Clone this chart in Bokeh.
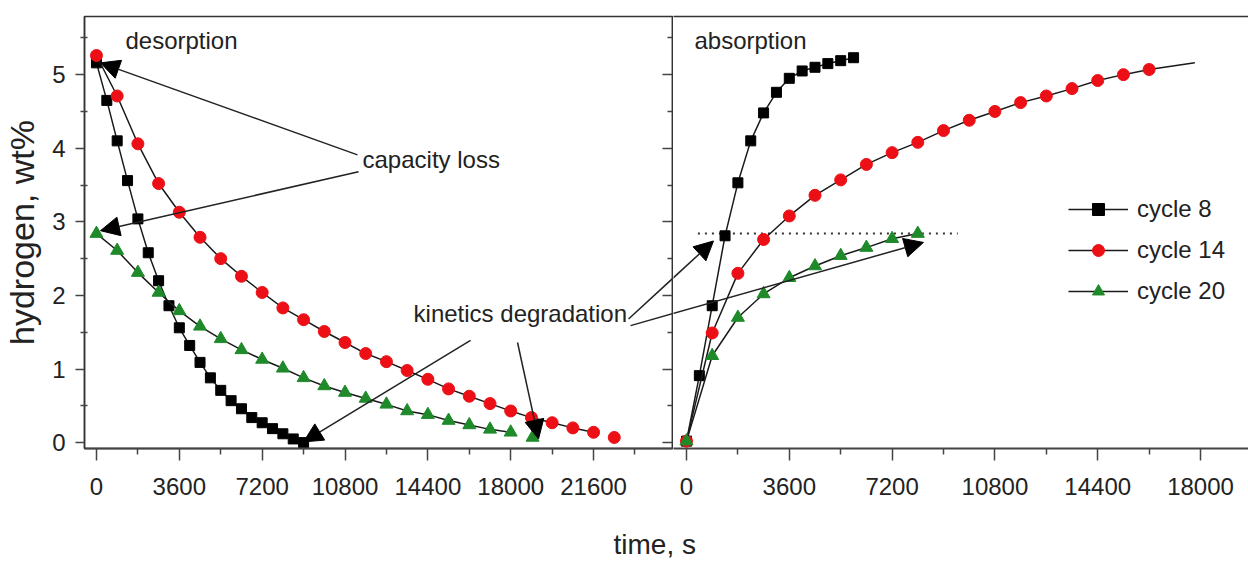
from bokeh.plotting import figure
from bokeh.layouts import row, column
from bokeh.models import (Range1d, LinearAxis, FixedTicker, Legend, LegendItem,
                          Arrow, NormalHead, Label)
from bokeh.embed import file_html
from bokeh.resources import INLINE

FONT = "Liberation Sans"
INK = "#1a1a1a"
TXT = "#222222"
RED = "#ec1016"
GREEN = "#1f8a2a"

# ---------------- data (time in s, hydrogen in wt%) ----------------
# desorption
des8_t = [0, 450, 900, 1350, 1800, 2250, 2700, 3150, 3600, 4050, 4500, 4950,
          5400, 5850, 6300, 6750, 7200, 7650, 8100, 8550, 9000]
des8_h = [5.16, 4.65, 4.10, 3.56, 3.04, 2.58, 2.20, 1.86, 1.56, 1.32, 1.09, 0.88,
          0.71, 0.57, 0.46, 0.34, 0.27, 0.19, 0.12, 0.05, 0.00]
des14_t = [0, 900, 1800, 2700, 3600, 4500, 5400, 6300, 7200, 8100, 9000, 9900,
           10800, 11700, 12600, 13500, 14400, 15300, 16200, 17100, 18000, 18900,
           19800, 20700, 21600, 22500]
des14_h = [5.26, 4.71, 4.06, 3.52, 3.13, 2.79, 2.50, 2.26, 2.04, 1.83, 1.67, 1.51,
           1.36, 1.21, 1.10, 0.98, 0.86, 0.73, 0.63, 0.53, 0.43, 0.34,
           0.27, 0.20, 0.14, 0.07]
des20_t = [0, 900, 1800, 2700, 3600, 4500, 5400, 6300, 7200, 8100, 9000, 9900,
           10800, 11700, 12600, 13500, 14400, 15300, 16200, 17100, 18000, 18950]
des20_h = [2.84, 2.61, 2.31, 2.04, 1.79, 1.58, 1.41, 1.26, 1.13, 1.01, 0.88, 0.77,
           0.68, 0.60, 0.52, 0.43, 0.38, 0.30, 0.24, 0.18, 0.14, 0.07]
# absorption
abs8_t = [0, 450, 900, 1350, 1800, 2250, 2700, 3150, 3600, 4050, 4500, 4950, 5400, 5850]
abs8_h = [0.02, 0.91, 1.86, 2.81, 3.53, 4.10, 4.48, 4.76, 4.95, 5.05, 5.10, 5.15, 5.19, 5.23]
abs14_t = [0, 900, 1800, 2700, 3600, 4500, 5400, 6300, 7200, 8100, 9000, 9900,
           10800, 11700, 12600, 13500, 14400, 15300, 16200, 17800]
abs14_h = [0.02, 1.49, 2.30, 2.76, 3.08, 3.36, 3.57, 3.78, 3.94, 4.08, 4.24, 4.38,
           4.50, 4.62, 4.71, 4.81, 4.92, 5.00, 5.07, 5.16]
abs20_t = [0, 900, 1800, 2700, 3600, 4500, 5400, 6300, 7200, 8100]
abs20_h = [0.02, 1.18, 1.70, 2.02, 2.24, 2.40, 2.54, 2.65, 2.77, 2.84]
# cycle-20 capacity reference level (dotted)
ref_t = [400, 9500]
ref_h = [2.84, 2.84]

labels = ["cycle 8", "cycle 14", "cycle 20"]

# ticks
des_ticks = [0, 3600, 7200, 10800, 14400, 18000, 21600]
des_minor = [1800, 5400, 9000, 12600, 16200, 19800, 23400]
abs_ticks = [0, 3600, 7200, 10800, 14400, 18000]
abs_minor = [1800, 5400, 9000, 12600, 16200]
y_ticks = [0, 1, 2, 3, 4, 5]
y_minor = [0.5, 1.5, 2.5, 3.5, 4.5, 5.5]

# ---------------- geometry ----------------
L_W, R_W, H, B_H = 673, 575, 520, 43
L_LEFT, TOP, BOTTOM = 84, 16, 72
L_X = (-520, 25030)
R_X = (-455, 19680)
Y = (-0.08, 5.79)
L_FRAME = (L_LEFT, L_W - 1)
R_FRAME = (L_W, L_W + R_W)


def r2l(t):
    px = R_FRAME[0] + (t - R_X[0]) / (R_X[1] - R_X[0]) * (R_FRAME[1] - R_FRAME[0])
    return L_X[0] + (px - L_FRAME[0]) / (L_FRAME[1] - L_FRAME[0]) * (L_X[1] - L_X[0])


def l2r(t):
    px = L_FRAME[0] + (t - L_X[0]) / (L_X[1] - L_X[0]) * (L_FRAME[1] - L_FRAME[0])
    return R_X[0] + (px - R_FRAME[0]) / (R_FRAME[1] - R_FRAME[0]) * (R_X[1] - R_X[0])


yr = Range1d(*Y)

L = figure(width=L_W, height=H, x_range=Range1d(*L_X), y_range=yr, title=None,
           toolbar_location=None, output_backend="svg",
           min_border_left=L_LEFT, min_border_right=1, min_border_top=TOP,
           min_border_bottom=BOTTOM)
R = figure(width=R_W, height=H, x_range=Range1d(*R_X), y_range=yr, title=None,
           toolbar_location=None, output_backend="svg", y_axis_location=None,
           min_border_left=0, min_border_right=0, min_border_top=TOP,
           min_border_bottom=BOTTOM)

for p in (L, R):
    p.xgrid.visible = False
    p.ygrid.visible = False
    p.background_fill_color = "white"
    p.border_fill_color = "white"

L.outline_line_color = "#333333"
L.outline_line_width = 1.5
R.outline_line_color = None


def style_x(ax, ticks, minor):
    ax.ticker = FixedTicker(ticks=ticks, minor_ticks=minor)
    ax.major_tick_out = 12
    ax.major_tick_in = 0
    ax.minor_tick_out = 6
    ax.minor_tick_in = 0
    ax.axis_line_width = 2
    ax.axis_line_color = "#444444"
    ax.major_tick_line_color = "#444444"
    ax.minor_tick_line_color = "#444444"
    ax.major_tick_line_width = 1.5
    ax.minor_tick_line_width = 1.5
    ax.major_label_text_font = FONT
    ax.major_label_text_font_size = "24px"
    ax.major_label_text_color = TXT
    ax.major_label_standoff = 17


style_x(L.xaxis[0], des_ticks, des_minor)
style_x(R.xaxis[0], abs_ticks, abs_minor)

ya = L.yaxis[0]
ya.ticker = FixedTicker(ticks=y_ticks, minor_ticks=y_minor)
ya.major_tick_out = 9
ya.major_tick_in = 0
ya.minor_tick_out = 4
ya.minor_tick_in = 3
ya.axis_line_color = "#333333"
ya.axis_line_width = 1.5
ya.major_tick_line_color = "#444444"
ya.minor_tick_line_color = "#444444"
ya.major_tick_line_width = 1.5
ya.minor_tick_line_width = 1.5
ya.major_label_text_font = FONT
ya.major_label_text_font_size = "24px"
ya.major_label_text_color = TXT
ya.major_label_standoff = 10
ya.axis_label = "hydrogen, wt%"
ya.axis_label_text_font = FONT
ya.axis_label_text_font_size = "34px"
ya.axis_label_text_font_style = "normal"
ya.axis_label_text_color = TXT
ya.axis_label_standoff = 8

# ticks on the divider, pointing into the desorption panel (tick marks only, no labels)
div_major = LinearAxis(ticker=FixedTicker(ticks=[], minor_ticks=y_ticks),
                       major_tick_in=0, major_tick_out=0, minor_tick_in=10, minor_tick_out=0,
                       axis_line_color="#333333", axis_line_width=1.5,
                       minor_tick_line_width=1.5, minor_tick_line_color="#444444")
div_minor = LinearAxis(ticker=FixedTicker(ticks=[], minor_ticks=y_minor),
                       major_tick_in=0, major_tick_out=0, minor_tick_in=5, minor_tick_out=0,
                       axis_line_color=None,
                       minor_tick_line_width=1.5, minor_tick_line_color="#444444")
L.add_layout(div_major, "right")
L.add_layout(div_minor, "right")

top_ax = LinearAxis(ticker=FixedTicker(ticks=[]), major_tick_in=0, major_tick_out=0,
                    minor_tick_in=0, minor_tick_out=0,
                    axis_line_color="#333333", axis_line_width=1.5)
R.add_layout(top_ax, "above")


def series(p, t, h, marker, color, size, line_n=None, mark_n=None):
    lr = p.line(t[:line_n], h[:line_n], line_color=INK, line_width=1.5)
    sr = p.scatter(t[:mark_n], h[:mark_n], marker=marker, size=size,
                   fill_color=color, line_color=color)
    return lr, sr


series(L, des8_t, des8_h, "square", "black", 10)
series(L, des14_t, des14_h, "circle", RED, 12, line_n=-1)
series(L, des20_t, des20_h, "triangle", GREEN, 13, line_n=-1)

R.line(ref_t, ref_h, line_color="#333333", line_width=2, line_dash="2 5")
a8 = series(R, abs8_t, abs8_h, "square", "black", 10)
a14 = series(R, abs14_t, abs14_h, "circle", RED, 12, mark_n=-1)
a20 = series(R, abs20_t, abs20_h, "triangle", GREEN, 13)

legend = Legend(items=[LegendItem(label=labels[0], renderers=list(a8)),
                       LegendItem(label=labels[1], renderers=list(a14)),
                       LegendItem(label=labels[2], renderers=list(a20))],
                location=(395, 142), border_line_color=None, background_fill_alpha=0,
                label_text_font=FONT, label_text_font_size="24px", label_text_color=TXT,
                glyph_width=60, glyph_height=30, label_height=30, spacing=11,
                padding=0, margin=0, label_standoff=9)
R.add_layout(legend)

# ---------------- annotations ----------------
def txt(p, x, y, s):
    p.add_layout(Label(x=x, y=y, text=s, text_font=FONT, text_font_size="24px",
                       text_color=TXT, text_align="left", text_baseline="middle"))


txt(L, 1260, 5.47, "desorption")
txt(R, 280, 5.47, "absorption")
txt(L, 11560, 3.85, "capacity loss")
txt(L, 13780, 1.75, "kinetics degradation")


def arrow(p, x0, y0, x1, y1):
    p.add_layout(Arrow(end=NormalHead(size=19, fill_color="black", line_color="black"),
                       x_start=x0, y_start=y0, x_end=x1, y_end=y1,
                       line_color="#222222", line_width=1.5))


arrow(L, 11343, 3.91, 174, 5.16)
arrow(L, 11386, 3.68, 174, 2.88)
arrow(L, 16254, 1.39, 8996, 0.01)
arrow(L, 18296, 1.36, 19209, 0.05)

# arrows that cross from the desorption panel into the absorption panel
cross = [(23120, 1.68, 945, 2.74), (23207, 1.59, 8298, 2.72)]
for (xs, ys, xe, ye) in cross:
    L.segment(x0=[xs], y0=[ys], x1=[r2l(xe)], y1=[ye], line_color="#222222", line_width=1.5)
    arrow(R, l2r(xs), ys, xe, ye)

# ---------------- shared x label ----------------
B = figure(width=L_W + R_W, height=B_H, x_range=Range1d(0, L_W + R_W), y_range=Range1d(0, B_H),
           title=None, toolbar_location=None, output_backend="svg",
           x_axis_location=None, y_axis_location=None, min_border=0)
B.xgrid.visible = False
B.ygrid.visible = False
B.outline_line_color = None
B.border_fill_color = "white"
B.add_layout(Label(x=613, y=B_H - 8, text="time, s", text_font=FONT, text_font_size="28px",
                   text_color=TXT, text_align="left", text_baseline="top"))

layout = column(row(L, R, spacing=0), B, spacing=0)
open("out.html", "w").write(file_html(layout, INLINE))
